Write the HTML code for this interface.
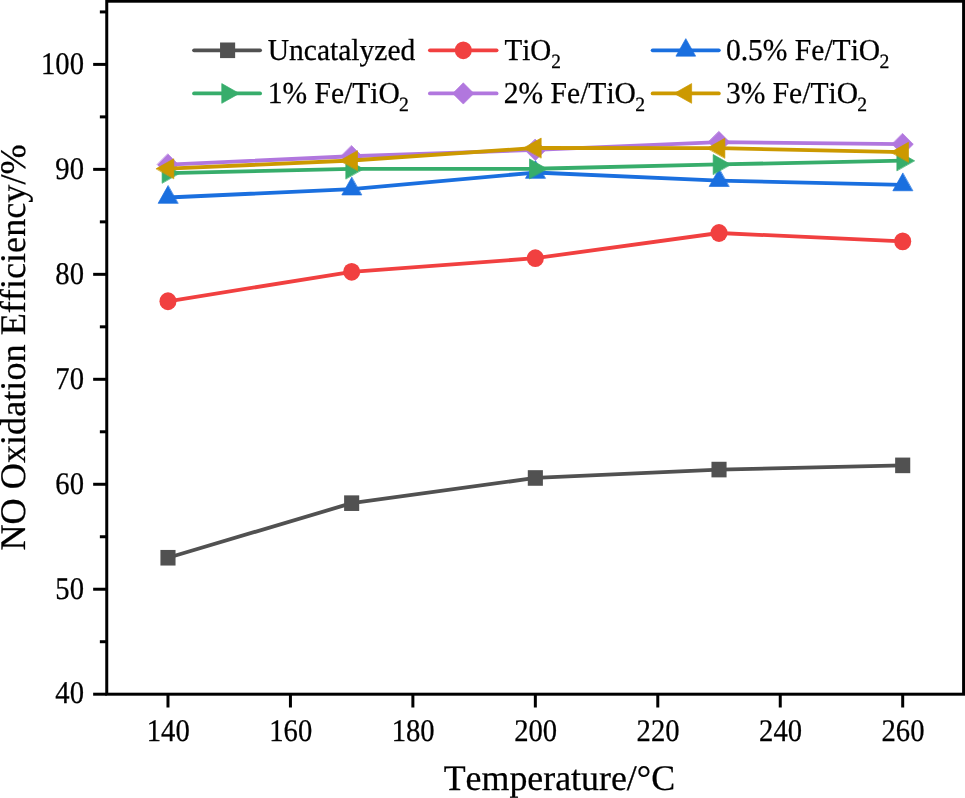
<!DOCTYPE html>
<html lang="en"><head><meta charset="utf-8"><title>NO Oxidation Efficiency vs Temperature</title>
<style>html,body{margin:0;padding:0;background:#fff;}body{width:965px;height:798px;overflow:hidden;}svg{display:block;will-change:transform;}text{text-rendering:geometricPrecision;font-kerning:none;stroke:#000;stroke-width:0.25px;font-family:"Liberation Serif","Times New Roman",serif;fill:#000;}</style>
</head><body>
<svg width="965" height="798" viewBox="0 0 965 798">
<rect x="0" y="0" width="965" height="798" fill="#fff"/>
<g id="series" fill="none" stroke-linejoin="round" stroke-linecap="round">
<polyline points="167.98,557.74 351.66,503.16 535.34,477.97 719.02,469.57 902.70,465.37" stroke="#515151" stroke-width="3.8" fill="none"/>
<rect x="160.43" y="549.94" width="15.1" height="15.6" fill="#515151"/>
<rect x="344.11" y="495.36" width="15.1" height="15.6" fill="#515151"/>
<rect x="527.79" y="470.17" width="15.1" height="15.6" fill="#515151"/>
<rect x="711.47" y="461.77" width="15.1" height="15.6" fill="#515151"/>
<rect x="895.15" y="457.57" width="15.1" height="15.6" fill="#515151"/>
<polyline points="167.98,301.26 351.66,271.83 535.34,258.19 719.02,233.00 902.70,241.39" stroke="#F14040" stroke-width="3.8" fill="none"/>
<ellipse cx="167.98" cy="301.26" rx="8.55" ry="8.9" fill="#F14040"/>
<ellipse cx="351.66" cy="271.83" rx="8.55" ry="8.9" fill="#F14040"/>
<ellipse cx="535.34" cy="258.19" rx="8.55" ry="8.9" fill="#F14040"/>
<ellipse cx="719.02" cy="233.00" rx="8.55" ry="8.9" fill="#F14040"/>
<ellipse cx="902.70" cy="241.39" rx="8.55" ry="8.9" fill="#F14040"/>
<polyline points="167.98,197.51 351.66,189.11 535.34,172.52 719.02,180.61 902.70,184.91" stroke="#1A6FDF" stroke-width="3.8" fill="none"/>
<polygon points="167.98,185.84 158.13,203.34 177.83,203.34" fill="#1A6FDF" stroke="#1A6FDF" stroke-width="0.7" stroke-linejoin="round"/>
<polygon points="351.66,177.44 341.81,194.94 361.51,194.94" fill="#1A6FDF" stroke="#1A6FDF" stroke-width="0.7" stroke-linejoin="round"/>
<polygon points="535.34,160.85 525.49,178.35 545.19,178.35" fill="#1A6FDF" stroke="#1A6FDF" stroke-width="0.7" stroke-linejoin="round"/>
<polygon points="719.02,168.95 709.17,186.45 728.87,186.45" fill="#1A6FDF" stroke="#1A6FDF" stroke-width="0.7" stroke-linejoin="round"/>
<polygon points="902.70,173.25 892.85,190.75 912.55,190.75" fill="#1A6FDF" stroke="#1A6FDF" stroke-width="0.7" stroke-linejoin="round"/>
<polyline points="167.98,173.07 351.66,168.87 535.34,168.77 719.02,164.42 902.70,160.67" stroke="#37AD6B" stroke-width="3.8" fill="none"/>
<polygon points="179.64,173.07 162.14,163.22 162.14,182.92" fill="#37AD6B" stroke="#37AD6B" stroke-width="0.7" stroke-linejoin="round"/>
<polygon points="363.32,168.87 345.82,159.02 345.82,178.72" fill="#37AD6B" stroke="#37AD6B" stroke-width="0.7" stroke-linejoin="round"/>
<polygon points="547.01,168.77 529.51,158.92 529.51,178.62" fill="#37AD6B" stroke="#37AD6B" stroke-width="0.7" stroke-linejoin="round"/>
<polygon points="730.69,164.42 713.19,154.57 713.19,174.27" fill="#37AD6B" stroke="#37AD6B" stroke-width="0.7" stroke-linejoin="round"/>
<polygon points="914.37,160.67 896.87,150.82 896.87,170.52" fill="#37AD6B" stroke="#37AD6B" stroke-width="0.7" stroke-linejoin="round"/>
<polyline points="167.98,164.67 351.66,156.27 535.34,149.92 719.02,142.12 902.70,144.22" stroke="#B177DE" stroke-width="3.8" fill="none"/>
<polygon points="167.98,154.07 178.58,164.67 167.98,175.27 157.38,164.67" fill="#B177DE" stroke="#B177DE" stroke-width="0.7" stroke-linejoin="round"/>
<polygon points="351.66,145.67 362.26,156.27 351.66,166.87 341.06,156.27" fill="#B177DE" stroke="#B177DE" stroke-width="0.7" stroke-linejoin="round"/>
<polygon points="535.34,139.32 545.94,149.92 535.34,160.52 524.74,149.92" fill="#B177DE" stroke="#B177DE" stroke-width="0.7" stroke-linejoin="round"/>
<polygon points="719.02,131.53 729.62,142.12 719.02,152.72 708.42,142.12" fill="#B177DE" stroke="#B177DE" stroke-width="0.7" stroke-linejoin="round"/>
<polygon points="902.70,133.62 913.30,144.22 902.70,154.82 892.10,144.22" fill="#B177DE" stroke="#B177DE" stroke-width="0.7" stroke-linejoin="round"/>
<polyline points="167.98,168.62 351.66,160.52 535.34,147.92 719.02,148.12 902.70,152.12" stroke="#CC9900" stroke-width="3.8" fill="none"/>
<polygon points="156.31,168.62 173.81,158.77 173.81,178.47" fill="#CC9900" stroke="#CC9900" stroke-width="0.7" stroke-linejoin="round"/>
<polygon points="339.99,160.52 357.49,150.67 357.49,170.37" fill="#CC9900" stroke="#CC9900" stroke-width="0.7" stroke-linejoin="round"/>
<polygon points="523.67,147.92 541.17,138.07 541.17,157.77" fill="#CC9900" stroke="#CC9900" stroke-width="0.7" stroke-linejoin="round"/>
<polygon points="707.35,148.12 724.85,138.27 724.85,157.97" fill="#CC9900" stroke="#CC9900" stroke-width="0.7" stroke-linejoin="round"/>
<polygon points="891.03,152.12 908.53,142.27 908.53,161.97" fill="#CC9900" stroke="#CC9900" stroke-width="0.7" stroke-linejoin="round"/>
</g>
<g id="axes" stroke="#000" stroke-width="3.0" fill="none" stroke-linecap="butt">
<rect x="106.75" y="1.2" width="856.85" height="693.00"/>
<line x1="93.15" y1="694.20" x2="106.75" y2="694.20"/>
<line x1="93.15" y1="589.23" x2="106.75" y2="589.23"/>
<line x1="93.15" y1="484.27" x2="106.75" y2="484.27"/>
<line x1="93.15" y1="379.30" x2="106.75" y2="379.30"/>
<line x1="93.15" y1="274.33" x2="106.75" y2="274.33"/>
<line x1="93.15" y1="169.37" x2="106.75" y2="169.37"/>
<line x1="93.15" y1="64.40" x2="106.75" y2="64.40"/>
<line x1="99.85" y1="641.72" x2="106.75" y2="641.72"/>
<line x1="99.85" y1="536.75" x2="106.75" y2="536.75"/>
<line x1="99.85" y1="431.78" x2="106.75" y2="431.78"/>
<line x1="99.85" y1="326.82" x2="106.75" y2="326.82"/>
<line x1="99.85" y1="221.85" x2="106.75" y2="221.85"/>
<line x1="99.85" y1="116.88" x2="106.75" y2="116.88"/>
<line x1="99.85" y1="11.92" x2="106.75" y2="11.92"/>
<line x1="167.98" y1="694.20" x2="167.98" y2="707.50"/>
<line x1="290.43" y1="694.20" x2="290.43" y2="707.50"/>
<line x1="412.88" y1="694.20" x2="412.88" y2="707.50"/>
<line x1="535.34" y1="694.20" x2="535.34" y2="707.50"/>
<line x1="657.79" y1="694.20" x2="657.79" y2="707.50"/>
<line x1="780.25" y1="694.20" x2="780.25" y2="707.50"/>
<line x1="902.70" y1="694.20" x2="902.70" y2="707.50"/>
</g>
<g id="ylabels" font-size="30" text-anchor="end">
<text transform="translate(84.0,702.80) scale(0.955,1.051)">40</text>
<text transform="translate(84.0,598.53) scale(0.955,1.051)">50</text>
<text transform="translate(84.0,493.57) scale(0.955,1.051)">60</text>
<text transform="translate(84.0,388.60) scale(0.955,1.051)">70</text>
<text transform="translate(84.0,283.63) scale(0.955,1.051)">80</text>
<text transform="translate(84.0,178.67) scale(0.955,1.051)">90</text>
<text transform="translate(84.0,73.70) scale(0.955,1.051)">100</text>
</g>
<g id="xlabels" font-size="30" text-anchor="middle">
<text transform="translate(168.28,740.8) scale(0.955,1.051)">140</text>
<text transform="translate(290.73,740.8) scale(0.955,1.051)">160</text>
<text transform="translate(413.18,740.8) scale(0.955,1.051)">180</text>
<text transform="translate(535.64,740.8) scale(0.955,1.051)">200</text>
<text transform="translate(658.09,740.8) scale(0.955,1.051)">220</text>
<text transform="translate(780.55,740.8) scale(0.955,1.051)">240</text>
<text transform="translate(903.00,740.8) scale(0.955,1.051)">260</text>
</g>
<text transform="translate(443.7,789.8) scale(0.996,1)" font-size="36">Temperature/°C</text>
<text transform="translate(24.9,550.6) rotate(-90) scale(1.006,1)" font-size="36">NO Oxidation Efficiency/%</text>
<g id="legend">
<line x1="194.05" y1="50.3" x2="260.10" y2="50.3" stroke="#515151" stroke-width="3.8" stroke-linecap="round"/>
<rect x="220.05" y="42.50" width="15.1" height="15.6" fill="#515151"/>
<text transform="translate(267.70,60.0) scale(0.985,1.013)" font-size="30">Uncatalyzed</text>
<line x1="429.95" y1="50.3" x2="496.60" y2="50.3" stroke="#F14040" stroke-width="3.8" stroke-linecap="round"/>
<ellipse cx="463.30" cy="50.30" rx="8.55" ry="8.9" fill="#F14040"/>
<text transform="translate(504.40,60.0) scale(0.968,1.013)" font-size="30">TiO<tspan font-size="20" dx="0.1" dy="7.8">2</tspan></text>
<line x1="652.65" y1="50.3" x2="718.80" y2="50.3" stroke="#1A6FDF" stroke-width="3.8" stroke-linecap="round"/>
<polygon points="685.80,38.63 675.95,56.13 695.65,56.13" fill="#1A6FDF" stroke="#1A6FDF" stroke-width="0.7" stroke-linejoin="round"/>
<text transform="translate(725.90,60.0) scale(0.985,1.013)" font-size="30">0.5% Fe/TiO<tspan font-size="20" dx="-0.8" dy="7.8">2</tspan></text>
<line x1="194.05" y1="93.45" x2="260.10" y2="93.45" stroke="#37AD6B" stroke-width="3.8" stroke-linecap="round"/>
<polygon points="239.27,93.45 221.77,83.60 221.77,103.30" fill="#37AD6B" stroke="#37AD6B" stroke-width="0.7" stroke-linejoin="round"/>
<text transform="translate(267.70,103.3) scale(0.985,1.013)" font-size="30">1% Fe/TiO<tspan font-size="20" dx="-0.8" dy="7.8">2</tspan></text>
<line x1="429.95" y1="93.45" x2="496.60" y2="93.45" stroke="#B177DE" stroke-width="3.8" stroke-linecap="round"/>
<polygon points="463.30,82.85 473.90,93.45 463.30,104.05 452.70,93.45" fill="#B177DE" stroke="#B177DE" stroke-width="0.7" stroke-linejoin="round"/>
<text transform="translate(503.80,103.3) scale(0.985,1.013)" font-size="30">2% Fe/TiO<tspan font-size="20" dx="-0.8" dy="7.8">2</tspan></text>
<line x1="652.65" y1="93.45" x2="718.80" y2="93.45" stroke="#CC9900" stroke-width="3.8" stroke-linecap="round"/>
<polygon points="674.13,93.45 691.63,83.60 691.63,103.30" fill="#CC9900" stroke="#CC9900" stroke-width="0.7" stroke-linejoin="round"/>
<text transform="translate(725.90,103.3) scale(0.985,1.013)" font-size="30">3% Fe/TiO<tspan font-size="20" dx="-0.8" dy="7.8">2</tspan></text>
</g>
</svg></body></html>
